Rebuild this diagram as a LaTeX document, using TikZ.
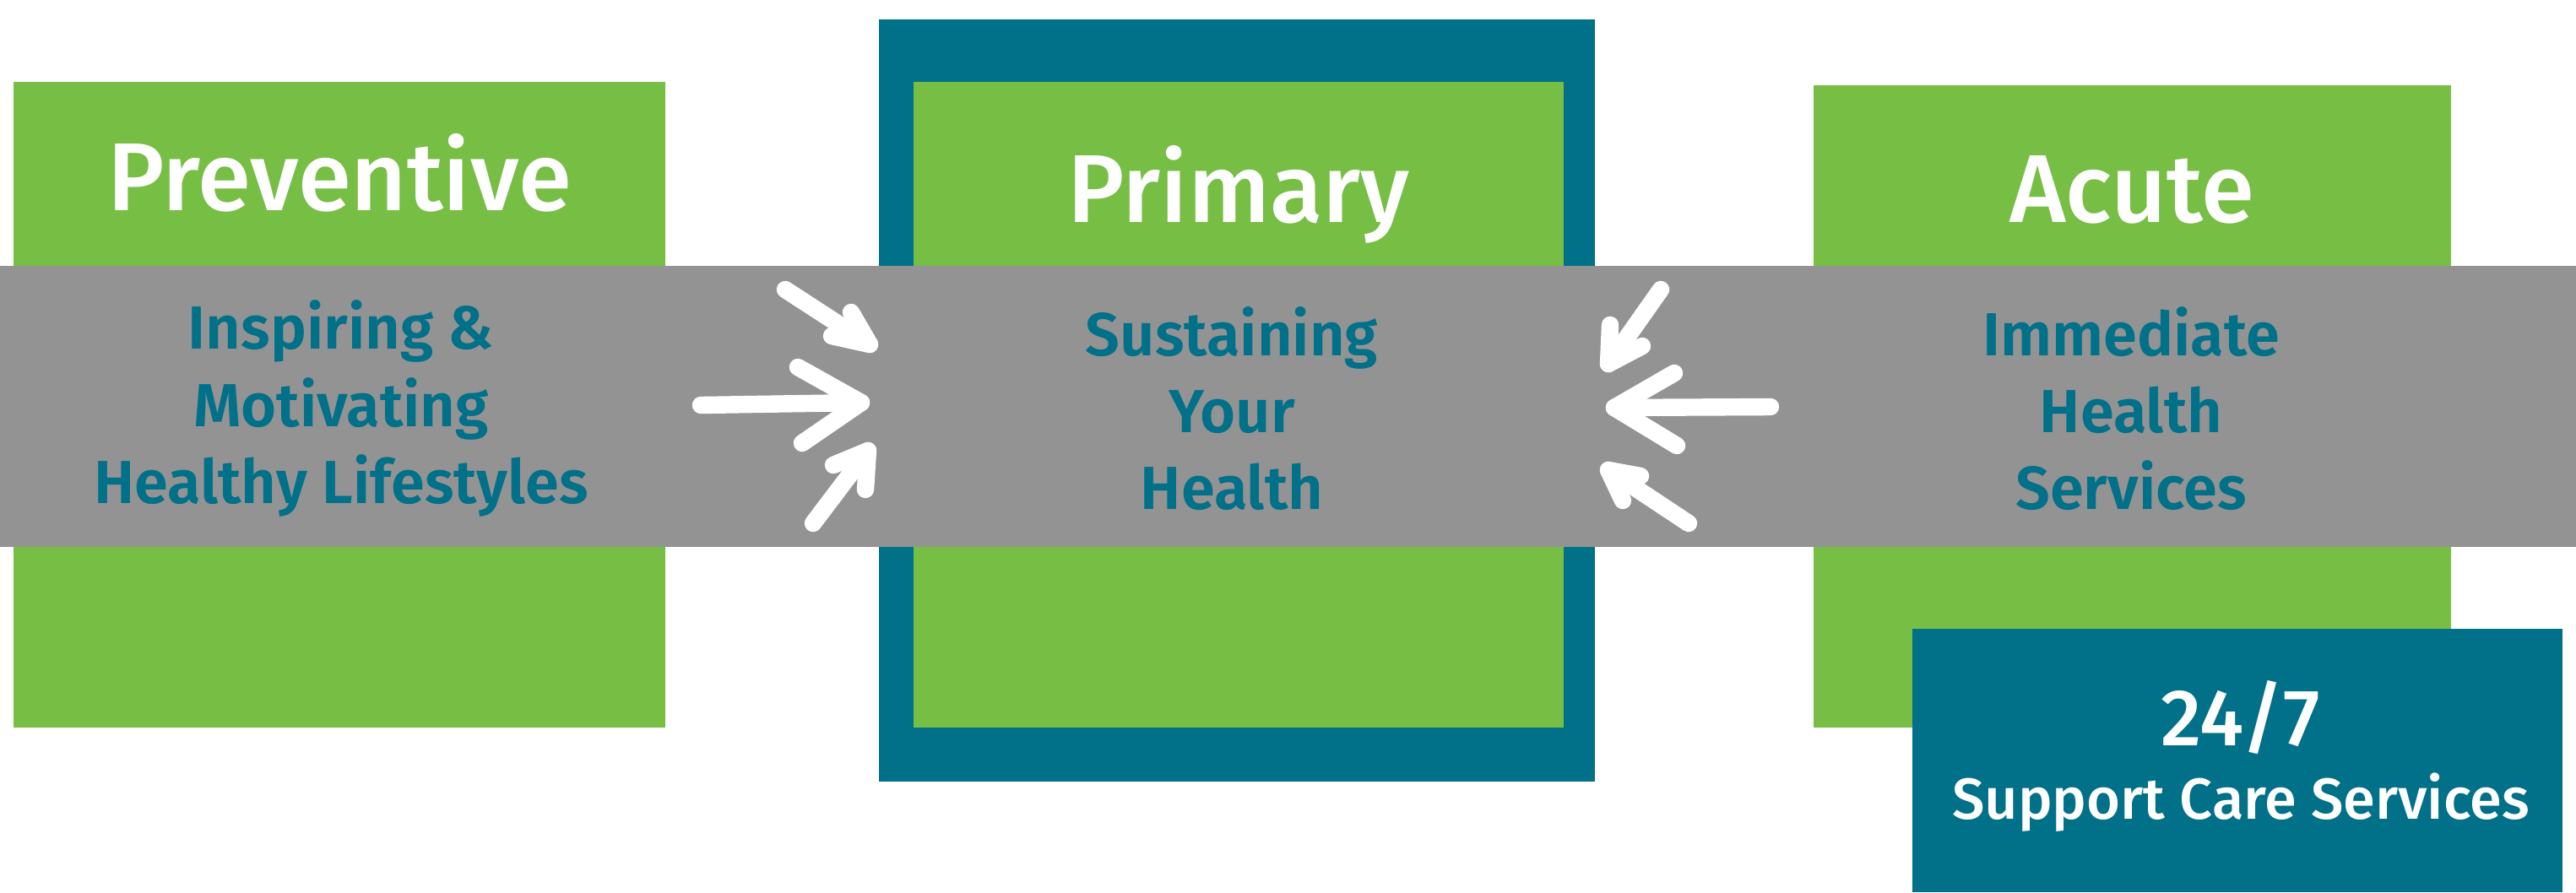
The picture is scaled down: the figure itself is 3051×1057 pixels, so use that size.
\documentclass[tikz,border=0pt]{standalone}
\usepackage{fontspec}
\setmainfont{Fira Sans}
\newfontfamily\medfont{Fira Sans Medium}
\newfontfamily\semifont{Fira Sans SemiBold}
\usepackage{xcolor}
\usepackage{tikz}
\usetikzlibrary{positioning,arrows.meta,calc}

\definecolor{cgreen}{RGB}{118,190,68}
\definecolor{cteal}{RGB}{1,112,137}
\definecolor{cgray}{RGB}{147,147,147}

\begin{document}
\begin{tikzpicture}[
      x=0.01cm, y=-0.01cm,
      panel/.style={rectangle, inner sep=0pt, outer sep=0pt},
      greenbox/.style={panel, fill=cgreen},
      tealbox/.style={panel, fill=cteal},
      title/.style={text=white, font=\medfont\fontsize{32.5pt}{38pt}\selectfont, anchor=base},
      sub/.style={text=cteal, font=\semifont\fontsize{20.5pt}{25.9pt}\selectfont, align=center},
      hand/.style={draw=white, line width=5.8pt, line cap=round, line join=round}
    ]
    \useasboundingbox (0,0) rectangle (3051,1057);
    % the three stages
    \node[greenbox, minimum width=7.72cm, minimum height=7.65cm] (prevbox) at (402,479.5) {};
    \node[tealbox, minimum width=8.48cm, minimum height=9.03cm] (primframe) at (1465,474.5) {};
    \node[greenbox, minimum width=7.70cm, minimum height=7.65cm] (primbox) at (1467,479.5) {};
    \node[greenbox, minimum width=7.55cm, minimum height=7.61cm] (acutebox) at (2525.5,481.5) {};
    % grey band across
    \node[panel, fill=cgray, minimum width=30.51cm, minimum height=3.33cm] (band) at (1525.5,481.5) {};
    % 24/7 box
    \node[tealbox, minimum width=7.70cm, minimum height=3.12cm] (suppbox) at (2650,901) {};
    % titles
    \node[title] (prevtitle) at (402,249) {Preventive};
    \node[title] (primtitle) at (1467,263) {Primary};
    \node[title] (acutetitle) at (2525,263) {Acute};
    % band texts
    \node[sub] (prevtext) at (404,484) {Inspiring \&\\Motivating\\Healthy Lifestyles};
    \node[sub] (primtext) at (1459,484) {Sustaining\\Your\\Health};
    \node[sub] (acutetext) at (2524,484) {Immediate\\Health\\Services};
    \node[text=white, font=\medfont\fontsize{27pt}{30pt}\selectfont] (supphead) at (2654,850) {24/7};
    \node[text=white, font=\medfont\fontsize{19.5pt}{22pt}\selectfont] (supptext) at (2654,951) {Support Care Services};
    % arrows into primary
    \coordinate (a1s) at (930,343);  \coordinate (a1t) at (1030,408);
    \coordinate (a2s) at (830,480);  \coordinate (a2t) at (1020,477);
    \coordinate (a3s) at (963,620);  \coordinate (a3t) at (1028,534);
    \draw[hand] (a1s) -- (a1t);
    \draw[hand] (985,398) -- (a1t) -- (1008,370);
    \draw[hand] (a2s) -- (a2t);
    \draw[hand] (945,435) -- (a2t) -- (950,525);
    \draw[hand] (a3s) -- (a3t);
    \draw[hand] (987,551) -- (a3t) -- (1025,580);
    % arrows from acute side
    \coordinate (b1s) at (1967,343); \coordinate (b1t) at (1905,431);
    \coordinate (b2s) at (2097,482); \coordinate (b2t) at (1912,483);
    \coordinate (b3s) at (2000,620); \coordinate (b3t) at (1905,557);
    \draw[hand] (b1s) -- (b1t);
    \draw[hand] (1907,385) -- (b1t) -- (1945,410);
    \draw[hand] (b2s) -- (b2t);
    \draw[hand] (1983,442) -- (b2t) -- (1986,528);
    \draw[hand] (b3s) -- (b3t);
    \draw[hand] (1943,564) -- (b3t) -- (1922,593);
  \end{tikzpicture}
\end{document}
